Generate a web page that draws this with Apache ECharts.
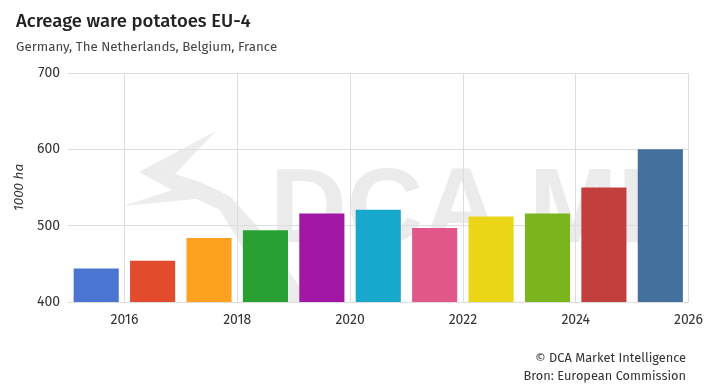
<!DOCTYPE html>
<html><head><meta charset="utf-8">
<script src="https://cdn.jsdelivr.net/npm/echarts@6/dist/echarts.min.js"></script>
<style>html,body{margin:0;padding:0;background:#fff}#c{width:706px;height:389px}</style>
</head><body><div id="c"></div>
<script>
const years = ['2015','2016','2017','2018','2019','2020','2021','2022','2023','2024','2025'];
const acreage = [444, 454, 484, 494, 516, 521, 497, 512, 516, 550, 600];
const barColors = ['#4a76d2','#e24b2b','#fca21f','#28a032','#a216a6','#17a8ce','#e1578a','#ead516','#7ab51d','#c33f3d','#44709e'];
const tickYears = ['2015','2016','2017','2018','2019','2020','2021','2022','2023','2024','2025','2026'];
const yTicks = [400, 500, 600, 700];

const chart = echarts.init(document.getElementById('c'), null, {renderer:'canvas'});
const F = '"Fira Sans","Noto Sans","Open Sans",sans-serif';
chart.setOption({
  animation:false,
  backgroundColor:'#fff',
  title:[
    {text:'Acreage ware potatoes EU-4', left:11, top:7, textStyle:{fontFamily:F, fontSize:18.5, fontWeight:500, color:'#222'}},
    {text:'Germany, The Netherlands, Belgium, France', left:11, top:36, textStyle:{fontFamily:F, fontSize:13.3, fontWeight:'normal', color:'#444'}}
  ],
  grid:{left:68, right:13, top:73, bottom:87, containLabel:false},
  graphic:[
    {type:'polygon', z:-1, silent:true, shape:{points:[[216,131],[139,172],[172,190],[123,206],[196,199],[220,210],[250,260],[280,302],[310,302],[262,232],[230,196],[200,182],[175,174]]}, style:{fill:'#ececec'}},
    {type:'text', z:-1, silent:true, style:{x:270, y:160, text:'DCA MI', font:'bold 106px "Liberation Sans", sans-serif', fill:'#ebebeb'}},
    {type:'text', style:{x:686, y:352, text:'© DCA Market Intelligence', font:'12.8px '+F, fill:'#333', textAlign:'right'}},
    {type:'text', style:{x:686, y:370, text:'Bron: European Commission', font:'12.8px '+F, fill:'#333', textAlign:'right'}}
  ],
  xAxis:[
    {type:'category', data:years, boundaryGap:true, show:false},
    {type:'category', data:tickYears, boundaryGap:false, position:'bottom',
     axisLine:{show:false}, axisTick:{show:false},
     axisLabel:{interval:function(i){return i%2===1;}, margin:11, fontFamily:F, fontSize:14, color:'#333'},
     splitLine:{show:true, interval:function(i){return i%2===1;}, lineStyle:{color:'#dddddd', width:1}}}
  ],
  yAxis:{type:'value', min:yTicks[0], max:yTicks[yTicks.length-1], interval:100,
    name:'1000 ha', nameLocation:'middle', nameGap:42, nameRotate:90,
    nameTextStyle:{fontFamily:F, fontSize:13.5, fontStyle:'italic', color:'#333'},
    axisLine:{show:false}, axisTick:{show:false},
    axisLabel:{margin:8, fontFamily:F, fontSize:14, color:'#333'},
    splitLine:{lineStyle:{color:'#dddddd', width:1}}},
  series:[{type:'bar', xAxisIndex:0, barWidth:'80%',
    data:acreage.map((v,i)=>({value:v, itemStyle:{color:barColors[i]}}))}]
});
</script></body></html>
